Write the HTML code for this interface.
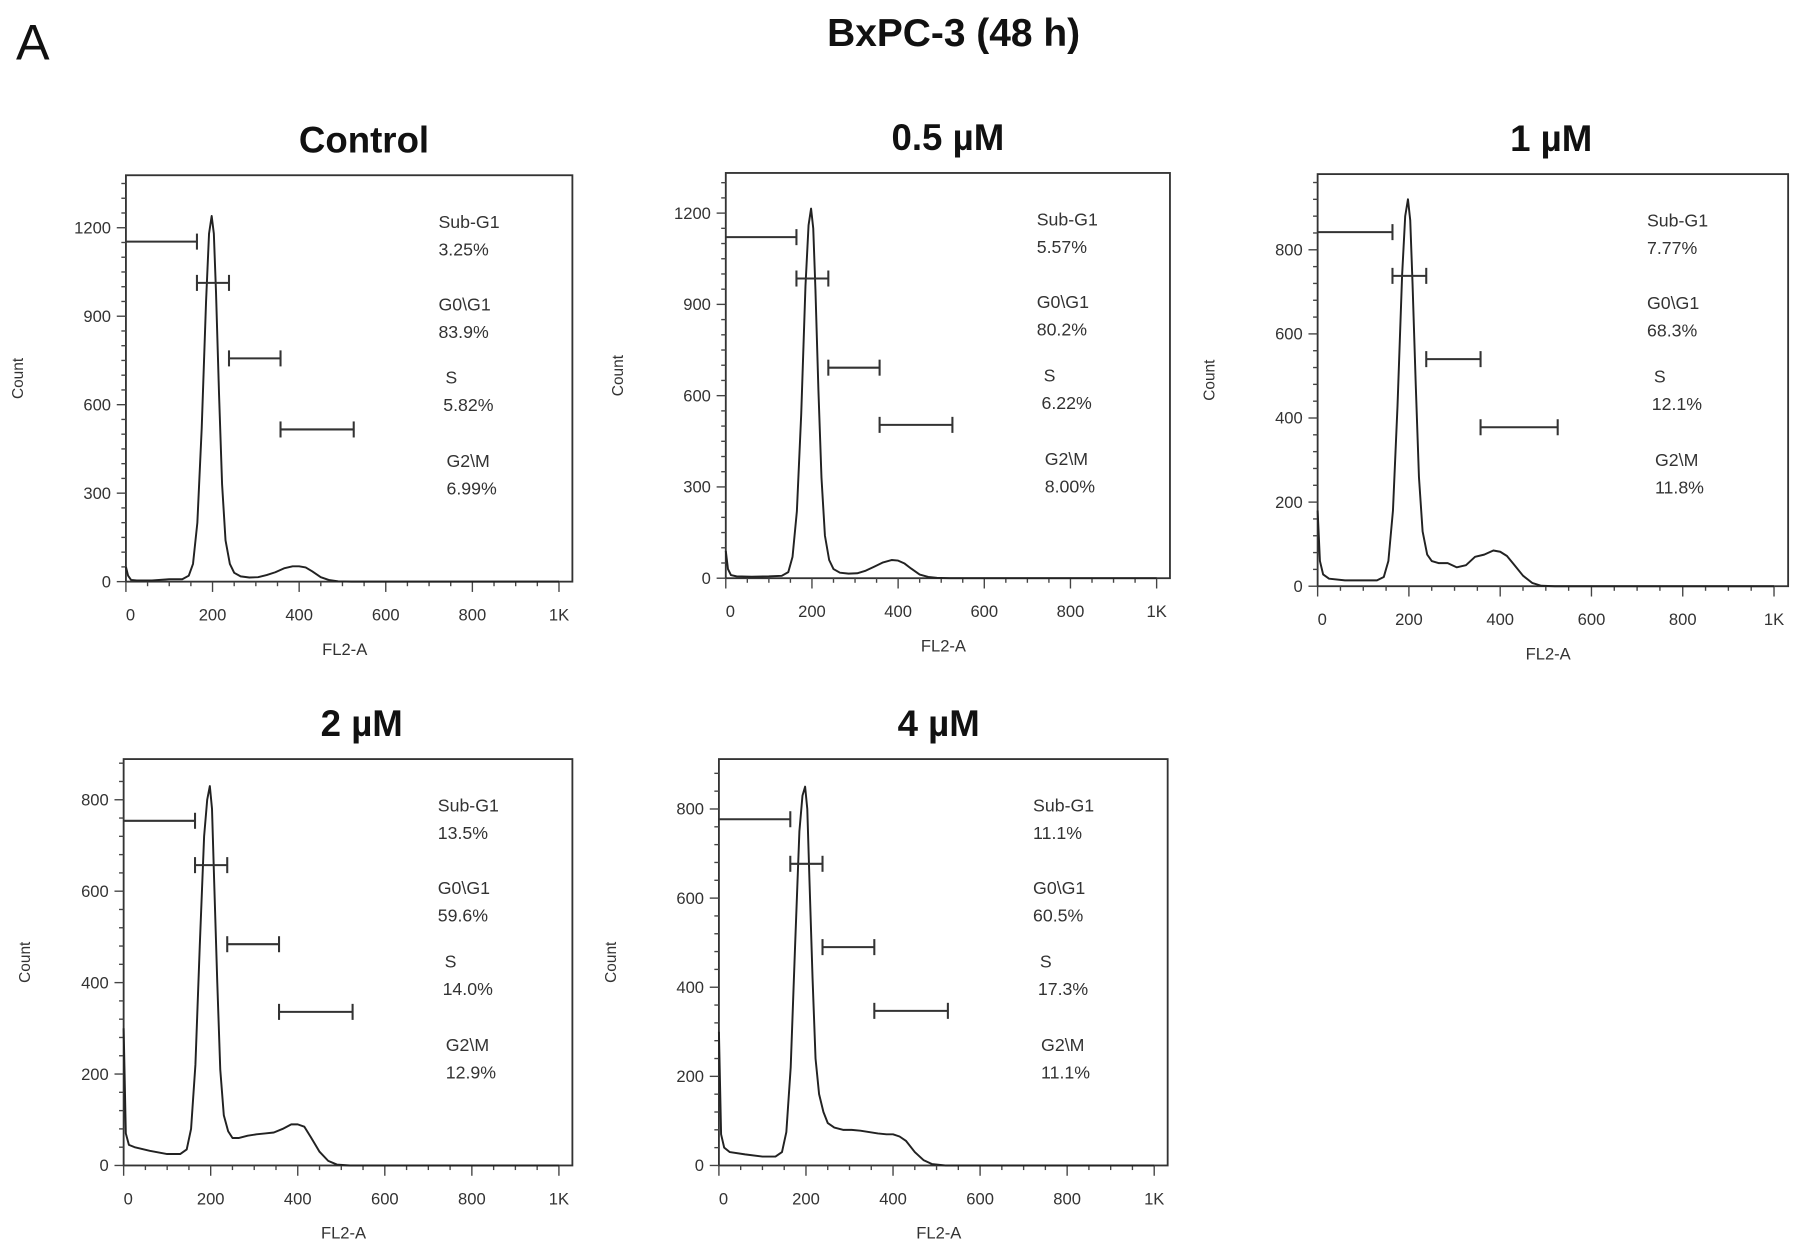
<!DOCTYPE html>
<html><head><meta charset="utf-8">
<style>
html,body{margin:0;padding:0;background:#fff;}
svg{display:block;}
text{font-family:"Liberation Sans",Arial,sans-serif;}
</style></head>
<body>
<svg id="fig" width="1795" height="1256" viewBox="0 0 1568 1097" xmlns="http://www.w3.org/2000/svg">
<text x="14" y="52" font-size="44" fill="#111">A</text>
<text x="833" y="40" font-size="34" font-weight="bold" text-anchor="middle" fill="#111">BxPC-3 (48 h)</text>
</svg>
<script>
// ---- data ----
const titles = ["Control","0.5 µM","1 µM","2 µM","4 µM"];
const yMaxes = [1378,1332,980,889,912];
const yTickSteps = [300,300,200,200,200];
const yTickMax = [1200,1200,800,800,800];
const phaseNames = ["Sub-G1","G0\\G1","S","G2\\M"];
const pct1 = ["3.25%","83.9%","5.82%","6.99%"];
const pct2 = ["5.57%","80.2%","6.22%","8.00%"];
const pct3 = ["7.77%","68.3%","12.1%","11.8%"];
const pct4 = ["13.5%","59.6%","14.0%","12.9%"];
const pct5 = ["11.1%","60.5%","17.3%","11.1%"];
const gateStart = [0,164,238,357];
const gateEnd = [164,238,357,526];
const gateY1 = [1153,1013,757,516];
const gateY2 = [1121,985,692,504];
const gateY3 = [842,738,540,378];
const gateY4 = [754,657,484,336];
const gateY5 = [777,677,490,347];
const xTickLabels = ["0","200","400","600","800","1K"];
const xTickVals = [0,200,400,600,800,1000];
const curveX = [0,5,12,25,60,100,130,145,155,165,175,185,192,198,203,208,215,222,230,240,250,265,285,305,325,345,365,385,400,415,430,450,470,490,520,700,1000];
const count1 = [50,20,6,4,4,8,8,20,60,200,520,950,1180,1240,1180,980,640,330,140,60,30,18,14,15,22,32,45,52,52,48,35,15,5,1,0,0,0];
const count2 = [90,30,10,6,5,6,8,20,70,220,540,960,1160,1215,1150,950,620,330,140,60,30,18,15,16,25,38,52,60,58,48,32,12,4,1,0,0,0];
const count3 = [180,60,28,18,14,14,14,22,60,180,430,740,880,920,870,720,480,260,130,75,60,55,55,45,50,70,75,85,82,72,52,25,8,1,0,0,0];
const count4 = [300,70,45,40,32,25,25,35,80,220,480,720,800,830,780,620,400,210,110,75,60,60,65,68,70,72,80,90,90,85,62,30,10,2,0,0,0];
const count5 = [300,70,40,30,25,20,20,30,75,220,490,750,830,850,800,640,420,240,160,120,95,85,80,80,78,75,72,70,70,65,55,30,12,3,0,0,0];

const boxes = [[110,153,390,355],[634,151,388,354],[1151,152,411,360],[108,663,392,355],[628,663,392,355]];
const titleXs = [318,828,1355,316,820];
const pcts = [pct1,pct2,pct3,pct4,pct5];
const gates = [gateY1,gateY2,gateY3,gateY4,gateY5];
const counts = [count1,count2,count3,count4,count5];

const NS = "http://www.w3.org/2000/svg";
const svg = document.getElementById("fig");
function mk(tag, attrs, parent){ const e=document.createElementNS(NS,tag); for(const k in attrs) e.setAttribute(k,attrs[k]); (parent||svg).appendChild(e); return e; }

for(let p=0;p<5;p++){
  const [bx,by,bw,bh]=boxes[p];
  const g=mk("g",{});
  
  
  const xs=v=>bx+v*bw*0.97/1000;
  const ys=v=>by+bh-v*bh/yMaxes[p];
  const t=mk("text",{x:titleXs[p],y:by-20,"font-size":32,"font-weight":"bold","text-anchor":"middle",fill:"#111"},g);
  t.textContent=titles[p];
  
  
  const r=mk("rect",{x:bx,y:by,width:bw,height:bh,fill:"none",stroke:"#333","stroke-width":1.6},g);
  
  
  const minorStep=yTickSteps[p]/(p<2?6:5);
  for(let v=0;v<=yMaxes[p];v+=minorStep){
    const major=Math.abs(v/yTickSteps[p]-Math.round(v/yTickSteps[p]))<1e-6;
    mk("line",{x1:bx-(major?8:4),x2:bx,y1:ys(v),y2:ys(v),stroke:"#444","stroke-width":1.2},g);
  }
  for(let v=0;v<=yTickMax[p];v+=yTickSteps[p]){
    const tl=mk("text",{x:bx-13,y:ys(v)+5,"font-size":14.5,"text-anchor":"end",fill:"#333"},g);
    tl.textContent=String(v);
    
    
  }
  for(let v=0;v<=1000;v+=50){
    const major=v%200===0;
    mk("line",{x1:xs(v),x2:xs(v),y1:by+bh,y2:by+bh+(major?9:4),stroke:"#444","stroke-width":1.2},g);
  }
  for(let i=0;i<xTickVals.length;i++){
    const tl=mk("text",{x:xs(xTickVals[i])+(i==0?4:0),y:by+bh+34,"font-size":14.5,"text-anchor":"middle",fill:"#333"},g);
    tl.textContent=xTickLabels[i];
    
    
  }
  const xl=mk("text",{x:bx+bw*0.49,y:by+bh+64,"font-size":14.5,"text-anchor":"middle",fill:"#333"},g);
  xl.textContent="FL2-A";
  
  
  const cy=by+bh/2;
  const yl=mk("text",{x:bx-90,y:cy,"font-size":13.5,"text-anchor":"middle",fill:"#333"},g);
  yl.setAttribute("transform",`translate(${(p==0?-(bx-90)+20:p==3?-(bx-90)+26:0)},0) rotate(-90 ${bx-90} ${cy})`);
  yl.textContent="Count";
  
  
  let d="";
  const cs=counts[p];
  for(let i=0;i<curveX.length;i++){ d+=(i?"L":"M")+xs(curveX[i]).toFixed(1)+","+ys(cs[i]).toFixed(1); }
  const path=mk("path",{d:d,fill:"none",stroke:"#222","stroke-width":1.7,"stroke-linejoin":"round"},g);
  
  
  for(let k=0;k<4;k++){
    const gy=ys(gates[p][k]), x1=xs(gateStart[k]), x2=xs(gateEnd[k]);
    const gg=mk("g",{stroke:"#333","stroke-width":1.8},g);
    
    
    mk("line",{x1:x1,x2:x2,y1:gy,y2:gy},gg);
    mk("line",{x1:x2,x2:x2,y1:gy-7,y2:gy+7},gg);
    if(k>0) mk("line",{x1:x1,x2:x1,y1:gy-7,y2:gy+7},gg);
  }
  const lx=bx+bw*0.70;
  const lyOff=[46,118,182,255];
  const dx=[0,0,6,7];
  for(let k=0;k<4;k++){
    const a=mk("text",{x:lx+dx[k],y:by+lyOff[k],"font-size":15.5,fill:"#333"},g);
    a.textContent=phaseNames[k];
    
    
    const b=mk("text",{x:lx+dx[k]*(k==2?0.7:1),y:by+lyOff[k]+24,"font-size":15.5,fill:"#333"},g);
    b.textContent=pcts[p][k];
    
    
  }
}
</script>
</body></html>
